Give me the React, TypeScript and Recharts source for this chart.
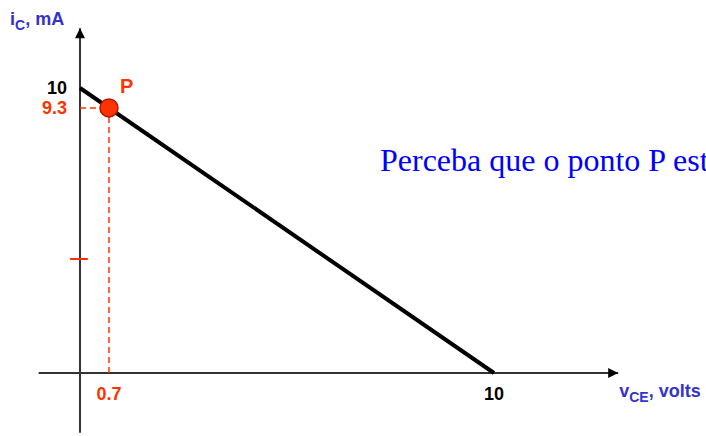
import React from 'react';
import { LineChart, Line, XAxis, YAxis, ReferenceLine, ReferenceDot } from 'recharts';

// Load line of the transistor: iC (mA) against vCE (V)
const loadLineVce = [0, 10];
const loadLineIc = [10, 0];

// Operating point P: [vCE, iC]
const opPoint = [0.7, 9.3];

// Tick labels on each axis and the extra mark on the iC axis
const vceTicks = [0.7, 10];
const icTicks = [10, 9.3];
const icMarks = [4];

const xDomain = [-1, 13];
const yDomain = [-2.1, 12.1];

const RED = '#ff3300';
const AXIS = '#333333';
const TITLE = '#3333cc';
const LABEL_FONT = '"Liberation Sans", Arial, sans-serif';

const chartData = loadLineVce.map((v, i) => ({ v, ic: loadLineIc[i] }));

const ArrowRight = (props: any) => {
  const { cx, cy } = props;
  return (
    <g>
      <path d={`M${cx},${cy} L${cx - 10},${cy - 5} L${cx - 10},${cy + 5} Z`} fill="#000" />
      <text x={cx + 1} y={cy + 24} fill={TITLE} fontFamily={LABEL_FONT} fontWeight="bold" fontSize={18}>
        v<tspan fontSize={14} dy={5}>CE</tspan>
        <tspan dy={-5}>, volts</tspan>
      </text>
    </g>
  );
};

const ArrowUp = (props: any) => {
  const { cx, cy } = props;
  return (
    <g>
      <path d={`M${cx},${cy} L${cx - 5},${cy + 10} L${cx + 5},${cy + 10} Z`} fill="#000" />
      <text x={cx - 70} y={cy - 3} fill={TITLE} fontFamily={LABEL_FONT} fontWeight="bold" fontSize={18}>
        i<tspan fontSize={14} dy={5}>C</tspan>
        <tspan dy={-5}>, mA</tspan>
      </text>
    </g>
  );
};

const tickColor = (value: number, pointValue: number) => (value === pointValue ? RED : '#000');

const XTickLabel = (props: any) => {
  const { cx, cy, value } = props;
  return (
    <text x={cx} y={cy + 27} textAnchor="middle" fill={tickColor(value, opPoint[0])}
      fontFamily={LABEL_FONT} fontWeight="bold" fontSize={18}>
      {String(value)}
    </text>
  );
};

const YTickLabel = (props: any) => {
  const { cx, cy, value } = props;
  return (
    <text x={cx - 13} y={cy + 6} textAnchor="end" fill={tickColor(value, opPoint[1])}
      fontFamily={LABEL_FONT} fontWeight="bold" fontSize={18}>
      {String(value)}
    </text>
  );
};

const PointMarker = (props: any) => {
  const { cx, cy } = props;
  return (
    <g>
      <circle cx={cx} cy={cy} r={9} fill={RED} stroke="#b01800" strokeWidth={1.5} />
      <text x={cx + 11} y={cy - 15} fill={RED} fontFamily={LABEL_FONT} fontWeight="bold" fontSize={20}>
        P
      </text>
    </g>
  );
};

export default function App() {
  return (
    <div style={{ position: 'absolute', left: 0, top: 0, width: 706, height: 436, overflow: 'hidden', background: '#fff' }}>
      <LineChart
        width={706}
        height={436}
        data={chartData}
        margin={{ top: 28.15, right: 87.8, bottom: 3.15, left: 38.6 }}
      >
        <XAxis type="number" dataKey="v" domain={xDomain} allowDataOverflow hide />
        <YAxis type="number" domain={yDomain} allowDataOverflow hide />

        {/* axes drawn through the origin */}
        <ReferenceLine segment={[{ x: xDomain[0], y: 0 }, { x: xDomain[1], y: 0 }]} stroke={AXIS} strokeWidth={2} ifOverflow="visible" />
        <ReferenceLine segment={[{ x: 0, y: yDomain[0] }, { x: 0, y: yDomain[1] }]} stroke={AXIS} strokeWidth={2} ifOverflow="visible" />
        <ReferenceDot x={xDomain[1]} y={0} ifOverflow="visible" shape={ArrowRight} />
        <ReferenceDot x={0} y={yDomain[1]} ifOverflow="visible" shape={ArrowUp} />

        {icMarks.map((m) => (
          <ReferenceLine key={m} segment={[{ x: -0.24, y: m }, { x: 0.19, y: m }]} stroke={RED} strokeWidth={2} ifOverflow="visible" />
        ))}

        {/* projections of P onto both axes */}
        <ReferenceLine segment={[{ x: 0, y: opPoint[1] }, { x: opPoint[0], y: opPoint[1] }]} stroke={RED} strokeWidth={1.5} strokeDasharray="6 4" />
        <ReferenceLine segment={[{ x: opPoint[0], y: 0 }, { x: opPoint[0], y: opPoint[1] }]} stroke={RED} strokeWidth={1.5} strokeDasharray="6 4" />

        <Line type="linear" dataKey="ic" stroke="#000" strokeWidth={4} dot={false} isAnimationActive={false} />

        {vceTicks.map((t) => (
          <ReferenceDot key={`x${t}`} x={t} y={0} ifOverflow="visible" shape={(p: any) => <XTickLabel {...p} value={t} />} />
        ))}
        {icTicks.map((t) => (
          <ReferenceDot key={`y${t}`} x={0} y={t} ifOverflow="visible" shape={(p: any) => <YTickLabel {...p} value={t} />} />
        ))}

        <ReferenceDot x={opPoint[0]} y={opPoint[1]} ifOverflow="visible" shape={PointMarker} />
      </LineChart>
      <div
        style={{
          position: 'absolute',
          left: 380,
          top: 144,
          fontFamily: '"Liberation Serif", "Times New Roman", serif',
          fontSize: 32,
          lineHeight: '32px',
          color: '#0000ff',
          whiteSpace: 'nowrap',
        }}
      >
        Perceba que o ponto P est
      </div>
    </div>
  );
}
